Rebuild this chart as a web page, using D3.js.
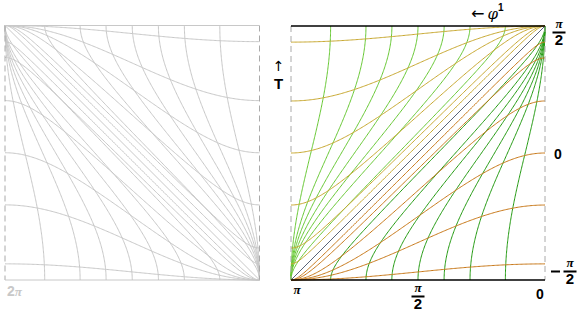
<!DOCTYPE html>
<html>
<head>
<meta charset="utf-8">
<script src="https://cdn.jsdelivr.net/npm/d3@7"></script>
<style>
body { margin: 0; background: #fff; }
text { font-family: "Liberation Sans", Arial, sans-serif; font-weight: bold; }
.pi { font-family: "Liberation Serif", serif; font-style: italic; font-weight: bold; }
.arr { font-family: "DejaVu Sans", sans-serif; font-weight: normal; }
</style>
</head>
<body>
<div id="chart"></div>
<script>
var width = 584,
    height = 321;

// -eta of the time slices (one curve each)
var etaSlices = [0.1, 0.5, 1, 2, 5, 10];
// comoving radius r of the worldlines (one curve each)
var comovingR = [0.25, 0.5, 0.72, 1, 1.39, 2, 4];

// tick labels
var xTickValues = [Math.PI, Math.PI / 2, 0];
var xTickLabels = ["π", "π/2", "0"];
var yTickValues = [Math.PI / 2, 0, -Math.PI / 2];
var yTickLabels = ["π/2", "0", "−π/2"];

var svg = d3.select("#chart")
  .append("svg")
    .attr("width", width)
    .attr("height", height);

var HALF = Math.PI / 2;

// slice of constant eta  ->  points (phi, T)
function slicePoints(a) {
  var b = Math.atan(a), k = a / Math.sqrt(1 + a * a);
  return d3.range(0, 201).map(function(i) {
    var th = Math.PI * i / 200;
    var T = Math.acos(k * Math.cos(th)) - b;
    return [Math.PI - th, T];
  });
}

// worldline of constant r  ->  points (phi, T)
function worldPoints(r) {
  var g = Math.atan(r), k = r / Math.sqrt(1 + r * r);
  return d3.range(0, 201).map(function(i) {
    var T = -HALF + Math.PI * i / 200;
    var th = g + Math.asin(k * Math.sin(T));
    return [Math.PI - th, T];
  });
}

function drawPanel(x0, y0, size, mirror, col) {
  var g = svg.append("g");
  // expanding patch scales, and the rotated ones for the contracting patch
  var x = d3.scaleLinear().domain(mirror ? [0, Math.PI] : [Math.PI, 0]).range([x0, x0 + size]);
  var y = d3.scaleLinear().domain([-HALF, HALF]).range([y0 + size, y0]);
  var xr = d3.scaleLinear().domain(mirror ? [Math.PI, 0] : [0, Math.PI]).range([x0, x0 + size]);
  var yr = d3.scaleLinear().domain([HALF, -HALF]).range([y0 + size, y0]);

  var line = d3.line().x(function(d) { return x(d[0]); }).y(function(d) { return y(d[1]); });
  var lineR = d3.line().x(function(d) { return xr(d[0]); }).y(function(d) { return yr(d[1]); });

  // horizon
  g.append("line")
    .attr("x1", x(Math.PI)).attr("y1", y(-HALF))
    .attr("x2", x(0)).attr("y2", y(HALF))
    .attr("stroke", col.hor).attr("stroke-width", 1);

  g.selectAll(".wl").data(comovingR).enter().append("path")
    .attr("d", function(d) { return line(worldPoints(d)); })
    .attr("fill", "none").attr("stroke", col.wl).attr("stroke-width", 1);
  g.selectAll(".wlr").data(comovingR).enter().append("path")
    .attr("d", function(d) { return lineR(worldPoints(d)); })
    .attr("fill", "none").attr("stroke", col.wlr).attr("stroke-width", 1);
  g.selectAll(".sl").data(etaSlices).enter().append("path")
    .attr("d", function(d) { return line(slicePoints(d)); })
    .attr("fill", "none").attr("stroke", col.sl).attr("stroke-width", 1);
  g.selectAll(".slr").data(etaSlices).enter().append("path")
    .attr("d", function(d) { return lineR(slicePoints(d)); })
    .attr("fill", "none").attr("stroke", col.slr).attr("stroke-width", 1);

  // frame
  g.append("line").attr("x1", x0).attr("x2", x0).attr("y1", y0).attr("y2", y0 + size)
    .attr("stroke", "#aaa").attr("stroke-dasharray", "6,4");
  g.append("line").attr("x1", x0 + size).attr("x2", x0 + size).attr("y1", y0).attr("y2", y0 + size)
    .attr("stroke", "#aaa").attr("stroke-dasharray", "6,4");
  g.append("line").attr("x1", x0).attr("x2", x0 + size).attr("y1", y0).attr("y2", y0)
    .attr("stroke", col.edge).attr("stroke-width", col.edgeW);
  g.append("line").attr("x1", x0).attr("x2", x0 + size).attr("y1", y0 + size).attr("y2", y0 + size)
    .attr("stroke", col.edge).attr("stroke-width", col.edgeW);
  return { x: x, y: y };
}

var grey = "#c8c8c8";
drawPanel(5, 25.5, 254.5, true,
  { wl: grey, wlr: grey, sl: grey, slr: grey, hor: grey, edge: grey, edgeW: 1 });
var right = drawPanel(291, 26, 254, false,
  { wl: "#66c832", wlr: "#229a10", sl: "#c8a830", slr: "#c87818", hor: "#5a6478", edge: "#000", edgeW: 1.5 });

// fraction label: numerator pi, bar, denominator
function fraction(cx, cy, txt) {
  var g = svg.append("g").attr("fill", "#000");
  var parts = txt.split("/");
  var neg = parts[0].charAt(0) === "−";
  g.append("text").attr("class", "pi").attr("x", cx).attr("y", cy - 4).attr("text-anchor", "middle")
    .style("font-size", "13px").text("π");
  g.append("rect").attr("x", cx - 6.5).attr("y", cy - 0.5).attr("width", 13).attr("height", 2);
  g.append("text").attr("x", cx).attr("y", cy + 13).attr("text-anchor", "middle")
    .style("font-size", "15px").text(parts[1]);
  if (neg) g.append("rect").attr("x", cx - 19).attr("y", cy - 0.5).attr("width", 9).attr("height", 2);
}

// x tick labels under the right panel
xTickValues.forEach(function(v, i) {
  var cx = right.x(v);
  if (i === 0) cx += 6;
  if (i === xTickLabels.length - 1) cx -= 5;
  if (xTickLabels[i] === "π") {
    svg.append("text").attr("class", "pi").attr("x", cx).attr("y", 294).attr("text-anchor", "middle")
      .style("font-size", "13px").text("π");
  } else if (xTickLabels[i] === "0") {
    svg.append("text").attr("x", cx).attr("y", 299).attr("text-anchor", "middle")
      .style("font-size", "14px").text("0");
  } else {
    fraction(cx, 296, xTickLabels[i]);
  }
});

// T tick labels on the right
yTickValues.forEach(function(v, i) {
  var cy = right.y(v);
  if (i === 0) fraction(559, 32, yTickLabels[i]);
  else if (i === yTickLabels.length - 1) fraction(570, 271, yTickLabels[i]);
  else svg.append("text").attr("x", 558).attr("y", cy + 6).attr("text-anchor", "middle")
    .style("font-size", "14px").text(yTickLabels[i]);
});

// axis names
var phiLab = svg.append("text").attr("x", 471).attr("y", 19).style("font-size", "14px");
phiLab.append("tspan").attr("class", "arr").style("font-size", "16px").text("←");
phiLab.append("tspan").attr("dx", 3).style("font-family", "DejaVu Serif").style("font-style", "italic")
  .style("font-weight", "normal").style("font-size", "15px").text("φ");
phiLab.append("tspan").attr("dy", -8).style("font-size", "10px").text("1");

svg.append("text").attr("class", "arr").attr("x", 278.5).attr("y", 71).attr("text-anchor", "middle")
  .style("font-size", "14px").text("↑");
svg.append("text").attr("x", 278.5).attr("y", 89).attr("text-anchor", "middle")
  .style("font-size", "15px").text("T");

// left panel corner label
var lt = svg.append("text").attr("x", 7).attr("y", 296).attr("fill", grey).style("font-size", "14px");
lt.append("tspan").text("2");
lt.append("tspan").attr("class", "pi").style("font-size", "13px").text("π");
</script>
</body>
</html>
